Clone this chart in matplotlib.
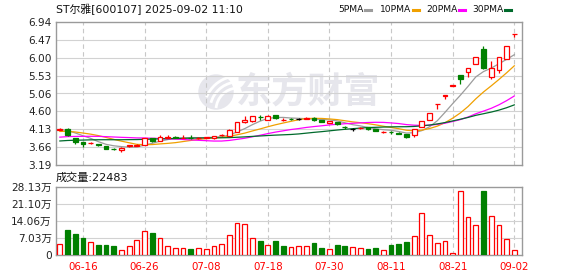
import matplotlib
matplotlib.use("Agg")
import matplotlib.pyplot as plt
from matplotlib.patches import Circle, Arc
from matplotlib.transforms import IdentityTransform
import numpy as np
import pandas as pd

plt.rcParams['font.family'] = ['DejaVu Sans', 'Noto Sans CJK SC']

dates = ['06-11', '06-12', '06-13', '06-16', '06-17', '06-18', '06-19', '06-20', '06-23', '06-24',
         '06-25', '06-26', '06-27', '06-30', '07-01', '07-02', '07-03', '07-04', '07-07', '07-08',
         '07-09', '07-10', '07-11', '07-14', '07-15', '07-16', '07-17', '07-18', '07-21', '07-22',
         '07-23', '07-24', '07-25', '07-28', '07-29', '07-30', '07-31', '08-01', '08-04', '08-05',
         '08-06', '08-07', '08-08', '08-11', '08-12', '08-13', '08-14', '08-15', '08-18', '08-19',
         '08-20', '08-21', '08-22', '08-25', '08-26', '08-27', '08-28', '08-29', '09-01', '09-02']

opens = [4.12, 4.14, 3.89, 3.79, 3.76, 3.73, 3.69, 3.62, 3.58, 3.68,
         3.70, 3.72, 3.89, 3.83, 3.91, 3.93, 3.90, 3.91, 3.90, 3.90,
         3.89, 3.97, 3.96, 4.06, 4.33, 4.35, 4.45, 4.38, 4.49, 4.37,
         4.40, 4.40, 4.40, 4.43, 4.37, 4.30, 4.31, 4.19, 4.13, 4.16,
         4.18, 4.13, 4.05, 4.06, 4.03, 4.00, 3.97, 4.18, 4.37, 4.78,
         5.00, 5.27, 5.54, 5.62, 5.83, 6.23, 5.51, 5.68, 5.97, 6.62]
highs = [4.16, 4.15, 3.91, 3.80, 3.80, 3.75, 3.70, 3.63, 3.65, 3.72,
         3.73, 3.90, 3.90, 3.98, 3.98, 3.94, 3.98, 3.97, 3.92, 3.93,
         3.96, 4.00, 4.13, 4.32, 4.47, 4.48, 4.50, 4.49, 4.50, 4.42,
         4.42, 4.43, 4.44, 4.45, 4.38, 4.35, 4.32, 4.22, 4.17, 4.18,
         4.19, 4.14, 4.07, 4.08, 4.05, 4.01, 4.13, 4.34, 4.56, 4.79,
         5.03, 5.28, 5.54, 5.73, 6.02, 6.32, 5.92, 6.01, 6.31, 6.63]
lows = [4.11, 3.96, 3.74, 3.65, 3.74, 3.69, 3.60, 3.59, 3.52, 3.66,
        3.69, 3.71, 3.79, 3.82, 3.89, 3.89, 3.89, 3.86, 3.88, 3.89,
        3.88, 3.95, 3.95, 4.05, 4.30, 4.33, 4.38, 4.37, 4.40, 4.35,
        4.37, 4.37, 4.39, 4.35, 4.32, 4.29, 4.25, 4.14, 4.09, 4.14,
        4.10, 4.08, 4.03, 4.00, 3.99, 3.90, 3.93, 4.18, 4.37, 4.66,
        4.93, 5.28, 5.31, 5.51, 5.83, 5.72, 5.44, 5.61, 5.97, 6.55]
closes = [4.14, 3.97, 3.80, 3.75, 3.78, 3.71, 3.62, 3.61, 3.64, 3.71,
          3.72, 3.89, 3.83, 3.92, 3.92, 3.90, 3.91, 3.90, 3.91, 3.92,
          3.95, 3.98, 4.11, 4.32, 4.36, 4.47, 4.44, 4.47, 4.43, 4.38,
          4.39, 4.40, 4.42, 4.38, 4.33, 4.34, 4.26, 4.18, 4.13, 4.17,
          4.13, 4.09, 4.06, 4.05, 4.01, 3.93, 4.13, 4.34, 4.56, 4.79,
          5.03, 5.28, 5.44, 5.73, 6.02, 5.73, 5.73, 6.01, 6.31, 6.63]
# closes before 06-11, only used for the moving averages
pre_closes = [3.58, 3.60, 3.62, 3.61, 3.63, 3.60, 3.62, 3.64, 3.63, 3.67,
              3.68, 3.70, 3.72, 3.74, 3.75, 3.77, 3.79, 3.82, 3.84, 3.89,
              3.93, 3.98, 4.03, 4.07, 4.09, 4.10, 4.12, 4.11, 4.13]

# volume in 万手
volumes = [4.5, 10.3, 8.6, 7.0, 5.2, 4.1, 4.1, 3.7, 2.1, 3.7,
           6.2, 9.9, 9.1, 6.9, 3.6, 2.9, 2.9, 2.5, 2.9, 2.5,
           3.6, 4.4, 8.1, 13.0, 12.6, 6.9, 5.8, 4.1, 5.8, 3.7,
           3.2, 3.6, 3.6, 4.9, 3.0, 2.5, 4.1, 3.7, 3.2, 2.9,
           2.5, 2.9, 1.9, 4.1, 4.5, 5.3, 7.7, 17.3, 8.1, 4.8,
           5.6, 1.0, 26.3, 15.5, 12.2, 26.3, 15.9, 12.2, 6.6, 2.2483]
vol_up = [1, 0, 0, 0, 1, 0, 0, 0, 1, 1,
          1, 1, 0, 1, 1, 1, 1, 0, 1, 1,
          1, 1, 1, 1, 1, 1, 0, 1, 0, 0,
          1, 1, 1, 0, 0, 1, 0, 0, 1, 1,
          0, 0, 1, 0, 0, 0, 1, 1, 1, 1,
          1, 1, 1, 1, 1, 0, 1, 1, 1, 1]

tick_dates = ['06-16', '06-26', '07-08', '07-18', '07-30', '08-11', '08-21', '09-02']
price_ticks = ['3.19', '3.66', '4.13', '4.60', '5.06', '5.53', '6.00', '6.47', '6.94']
vol_ticks = [0, 7.03, 14.06, 21.10, 28.13]
vol_tick_labels = ['0', '7.03万', '14.06万', '21.10万', '28.13万']
ma_periods = [5, 10, 20, 30]
ma_colors = ['#9c9c9c', '#f0a000', '#ff00ff', '#006a2c']

RED = '#ff0000'
GREEN = '#008000'
GRID = '#d2d2d2'
FRAME = '#9a9a9a'
MARK = '#e6e6ec'

fig = plt.figure(figsize=(5.78, 2.76), dpi=100)
W, H = 578, 276
ax = fig.add_axes([56 / W, 1 - 165 / H, 466 / W, 143 / H])
axv = fig.add_axes([56 / W, 1 - 255 / H, 466 / W, 68.3 / H])

x = np.arange(len(dates))
o = np.array(opens)
c = np.array(closes)
h = np.array(highs)
l = np.array(lows)
tick_pos = [dates.index(d) for d in tick_dates]

for a in (ax, axv):
    a.set_xlim(-0.5, 60.0)
    for s in a.spines.values():
        s.set_color(FRAME)
        s.set_linewidth(1.0)
    for p in tick_pos:
        a.axvline(p, color='#c8c8c8', lw=0.8, ls=(0, (4, 3)), zorder=1)
    a.tick_params(length=0, colors='#222222', labelsize=7.6)

# price panel
pvals = np.linspace(3.19, 6.94, len(price_ticks))
ax.set_ylim(pvals[0], pvals[-1])
ax.set_yticks(pvals)
ax.set_yticklabels(price_ticks)
ax.tick_params(axis='y', pad=3)
for v in pvals[1:-1]:
    ax.axhline(v, color=GRID, lw=0.8, zorder=1)
ax.set_xticks([])

# watermark (logo + text), drawn in pixel coordinates
ident = IdentityTransform()
ax.add_patch(Circle((216, H - 92), 17, transform=ident, color=MARK, zorder=0.4, clip_on=False))
for r, t1, t2 in [(22, 95, 175), (28, 100, 165), (34, 105, 158)]:
    ax.add_patch(Arc((238, H - 110), 2 * r, 2 * r, theta1=t1, theta2=t2, transform=ident,
                     color='white', lw=2.0, zorder=0.45, clip_on=False))
ax.text(308 / W, 1 - 92 / H, '东方财富', transform=fig.transFigure, fontsize=26,
        fontweight='bold', color=MARK, ha='center', va='center',
        family=['Noto Sans CJK SC'], zorder=0.5)

all_close = pd.Series(pre_closes + closes)
for n, col in zip(ma_periods, ma_colors):
    ma = all_close.rolling(n).mean().iloc[len(pre_closes):].values
    ax.plot(x, ma, color=col, lw=0.9, zorder=2)

ccol = np.where(c > o, RED, np.where(c < o, GREEN, 'black'))
face = np.where(c > o, 'white', ccol)
ax.vlines(x, l, h, colors=ccol, lw=0.9, zorder=3)
ax.bar(x, np.maximum(np.abs(c - o), 0.004), bottom=np.minimum(o, c), width=0.62,
       color=face, edgecolor=ccol, linewidth=0.9, zorder=4)

# volume panel
vcol = np.where(np.array(vol_up) == 1, RED, GREEN)
vface = np.where(np.array(vol_up) == 1, 'white', GREEN)
axv.bar(x, volumes, width=0.62, color=vface, edgecolor=vcol, linewidth=0.9, zorder=3)
axv.set_ylim(0, vol_ticks[-1])
axv.set_yticks(vol_ticks)
axv.set_yticklabels(vol_tick_labels)
for v in vol_ticks[1:-1]:
    axv.axhline(v, color=GRID, lw=0.8, zorder=1)
axv.set_xticks(tick_pos)
axv.set_xticklabels(tick_dates, color=RED, fontsize=7.4)
axv.tick_params(axis='x', pad=5, colors=RED)
axv.tick_params(axis='y', pad=3)

# title, legend, volume label
fig.text(56 / W, 1 - 9 / H, 'ST尔雅[600107] 2025-09-02 11:10', fontsize=7.8,
         ha='left', va='center', color='#111111')
fig.text(56 / W, 1 - 178 / H, '成交量:22483', fontsize=8,
         ha='left', va='center', color='#111111')
leg_x = [338, 380, 426, 472]
for n, col, lx in zip(ma_periods, ma_colors, leg_x):
    fig.text(lx / W, 1 - 9 / H, f'{n}PMA', fontsize=6.6, ha='left', va='center', color='#111111')
    mx = lx + (27 if n < 10 else 33)
    fig.add_artist(plt.Line2D([mx / W, (mx + 6) / W], [1 - 10 / H, 1 - 10 / H],
                              color=col, lw=2.2, transform=fig.transFigure))

fig.savefig('out.png', dpi=100)
